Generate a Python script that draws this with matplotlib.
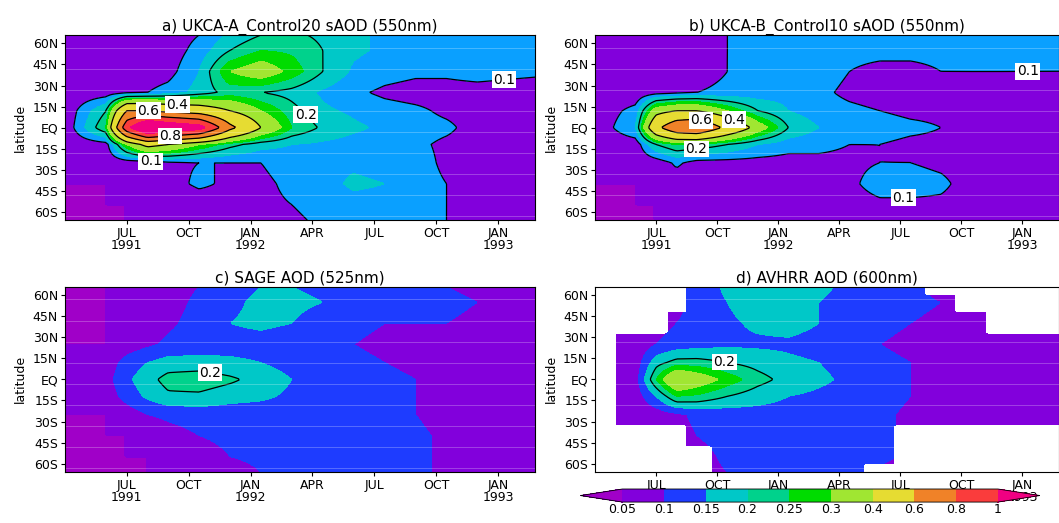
import numpy as np
import matplotlib
matplotlib.use('Agg')
from matplotlib import pyplot as plt
from matplotlib.colors import ListedColormap, BoundaryNorm

nan = np.nan
# month index (Jan 1991 = 0) and latitude grid
months = [3, 5, 6, 7, 8, 9.5, 11, 12.5, 14, 15.5, 17, 18.5, 20, 21.5, 23, 26]
lats = [-66, -55, -40, -25, -12, 0, 12, 25, 40, 55, 66]

aod_a = [
    [.05,.05,.05,.05,.06,.06,.07,.08,.09,.11,.12,.12,.12,.10,.07,.05],
    [.05,.05,.05,.06,.06,.07,.08,.09,.10,.12,.13,.13,.12,.10,.08,.06],
    [.05,.05,.06,.06,.08,.11,.09,.09,.11,.13,.16,.15,.12,.10,.08,.06],
    [.06,.06,.07,.07,.09,.10,.10,.10,.12,.14,.14,.13,.12,.09,.07,.06],
    [.06,.08,.30,.45,.40,.30,.22,.17,.15,.14,.13,.12,.11,.09,.08,.07],
    [.06,.25,.95,1.3,1.2,1.1,.65,.40,.25,.19,.16,.14,.12,.11,.08,.07],
    [.06,.20,.60,.60,.55,.50,.40,.30,.22,.16,.14,.12,.11,.09,.08,.07],
    [.06,.07,.09,.10,.12,.17,.22,.20,.18,.14,.11,.09,.08,.08,.08,.07],
    [.06,.06,.07,.07,.08,.15,.30,.35,.28,.20,.14,.12,.11,.11,.12,.11],
    [.06,.06,.07,.07,.07,.12,.20,.25,.24,.20,.16,.14,.13,.13,.12,.11],
    [.06,.06,.07,.07,.07,.10,.16,.20,.21,.19,.16,.14,.13,.12,.11,.10]]

aod_b = [
    [.05,.05,.05,.05,.06,.06,.06,.07,.07,.08,.08,.08,.08,.07,.06,.05],
    [.05,.05,.05,.06,.06,.06,.07,.07,.08,.08,.09,.09,.09,.08,.06,.06],
    [.05,.05,.06,.07,.06,.06,.07,.07,.08,.09,.12,.12,.11,.08,.06,.06],
    [.06,.06,.07,.11,.08,.08,.08,.08,.09,.09,.10,.10,.09,.08,.06,.06],
    [.06,.07,.20,.25,.24,.20,.15,.12,.11,.10,.10,.09,.09,.08,.07,.06],
    [.06,.15,.55,.75,.80,.55,.35,.20,.15,.13,.12,.11,.10,.09,.07,.06],
    [.06,.12,.35,.40,.40,.30,.20,.15,.12,.11,.10,.09,.09,.08,.07,.06],
    [.06,.06,.08,.09,.10,.11,.12,.13,.11,.09,.08,.08,.08,.08,.08,.07],
    [.06,.06,.06,.07,.08,.10,.13,.15,.12,.10,.09,.09,.10,.10,.10,.10],
    [.06,.06,.06,.07,.08,.10,.12,.12,.12,.11,.11,.11,.11,.12,.12,.11],
    [.06,.06,.06,.07,.08,.10,.12,.12,.12,.12,.12,.12,.12,.12,.12,.11]]

aod_sage = [
    [.05,.05,.05,.05,.06,.06,.08,.10,.11,.12,.12,.12,.11,.09,.07,.05],
    [.05,.05,.05,.05,.06,.08,.10,.11,.12,.12,.13,.12,.11,.09,.07,.05],
    [.05,.05,.05,.06,.08,.10,.11,.12,.12,.13,.14,.12,.11,.09,.07,.06],
    [.05,.05,.07,.10,.11,.12,.12,.12,.12,.12,.12,.11,.10,.08,.07,.06],
    [.05,.07,.12,.16,.19,.19,.17,.16,.14,.13,.12,.11,.10,.08,.07,.06],
    [.05,.08,.14,.18,.22,.23,.21,.18,.15,.13,.12,.11,.10,.08,.07,.06],
    [.05,.07,.12,.15,.17,.17,.16,.15,.13,.12,.11,.10,.09,.08,.07,.06],
    [.05,.05,.07,.09,.11,.12,.13,.13,.12,.11,.10,.09,.08,.07,.06,.06],
    [.05,.05,.06,.07,.09,.12,.15,.16,.15,.13,.11,.10,.10,.10,.09,.07],
    [.05,.05,.06,.06,.08,.11,.14,.16,.16,.15,.13,.11,.11,.11,.10,.08],
    [.05,.05,.06,.06,.08,.10,.13,.15,.15,.14,.12,.11,.10,.10,.09,.07]]

aod_avhrr = [
    [nan,nan,nan,nan,nan,.10,.12,.13,.13,.12,nan,nan,nan,nan,nan,nan],
    [nan,nan,nan,nan,nan,.11,.13,.14,.14,.13,.12,nan,nan,nan,nan,nan],
    [nan,nan,nan,nan,.10,.12,.13,.13,.13,.13,.12,nan,nan,nan,nan,nan],
    [nan,.06,.07,.09,.11,.12,.13,.13,.13,.12,.11,.09,.08,.07,.06,.06],
    [nan,.07,.15,.25,.24,.20,.17,.15,.14,.13,.12,.10,.08,.07,.06,.06],
    [nan,.08,.25,.40,.35,.28,.22,.18,.16,.14,.12,.10,.09,.07,.07,.06],
    [nan,.07,.18,.22,.22,.20,.18,.16,.15,.13,.11,.10,.08,.07,.06,.06],
    [nan,.06,.10,.12,.13,.14,.14,.14,.13,.12,.10,.09,.08,.07,.06,.06],
    [nan,nan,nan,.10,.12,.14,.16,.17,.15,.13,.11,.10,.09,.08,nan,nan],
    [nan,nan,nan,nan,.12,.15,.18,.17,.15,.13,.12,.11,.10,nan,nan,nan],
    [nan,nan,nan,nan,.12,.16,.20,.19,.16,.14,.12,.12,nan,nan,nan,nan]]

levels = [0.05, 0.1, 0.15, 0.2, 0.25, 0.3, 0.4, 0.6, 0.8, 1]
colors = ['#a000c8', '#8200dc', '#1e3cff', '#00c8c8', '#00d28c', '#00dc00',
          '#a0e632', '#e6dc32', '#f08228', '#fa3c3c', '#f00082']
colors_model = list(colors)
colors_model[2] = '#0aa0ff'

panels = [
    ('a) UKCA-A_Control20 sAOD (550nm)', aod_a, [0.1, 0.2, 0.4, 0.6, 0.8], colors_model),
    ('b) UKCA-B_Control10 sAOD (550nm)', aod_b, [0.1, 0.2, 0.4, 0.6, 0.8], colors_model),
    ('c) SAGE AOD (525nm)', aod_sage, [0.2], colors),
    ('d) AVHRR AOD (600nm)', aod_avhrr, [0.2, 0.4], colors),
]
positions = [[0.0614, 0.579, 0.444, 0.354], [0.562, 0.579, 0.438, 0.354],
             [0.0614, 0.0975, 0.444, 0.354], [0.562, 0.0975, 0.438, 0.354]]

xticks = [6, 9, 12, 15, 18, 21, 24]
xlabels = ['JUL\n1991', 'OCT', 'JAN\n1992', 'APR', 'JUL', 'OCT', 'JAN\n1993']
yticks = [-60, -45, -30, -15, 0, 15, 30, 45, 60]
ylabels = ['60S', '45S', '30S', '15S', 'EQ', '15N', '30N', '45N', '60N']

# finer grid for smoother shading (bilinear between the read values)
tf = np.linspace(months[0], months[-1], 200)
lf = np.linspace(lats[0], lats[-1], 150)


def refine(z):
    z = np.array(z, dtype=float)
    miss = np.isnan(z)
    zf = np.where(miss, 0.08, z)
    rows = np.array([np.interp(tf, months, r) for r in zf])
    full = np.array([np.interp(lf, lats, c) for c in rows.T]).T
    # nearest-cell mask for missing data
    it = np.abs(np.subtract.outer(tf, months)).argmin(axis=1)
    il = np.abs(np.subtract.outer(lf, lats)).argmin(axis=1)
    m = miss[il][:, it]
    return np.ma.masked_array(full, mask=m)


fig = plt.figure(figsize=(10.59, 5.23), dpi=100)
X, Y = np.meshgrid(tf, lf)
cf = None
for (title, z, clev, cols), pos in zip(panels, positions):
    ax = fig.add_axes(pos)
    z = refine(z)
    cmap = ListedColormap(cols[1:-1])
    cmap.set_under(cols[0])
    cmap.set_over(cols[-1])
    norm = BoundaryNorm(levels, cmap.N)
    f = ax.contourf(X, Y, z, levels=levels, cmap=cmap, norm=norm, extend='both')
    if cols is colors:
        cf = f
    cs = ax.contour(X, Y, z, levels=clev, colors='black', linewidths=0.9)
    labs = ax.clabel(cs, fmt='%g', fontsize=10, inline=False)
    for t in labs:
        t.set_rotation(0)
        t.set_bbox(dict(facecolor='white', edgecolor='none', pad=1))
    for yy in np.arange(-63, 66, 15):
        ax.axhline(yy, color='white', lw=0.5, alpha=0.35)
    ax.set_xlim(3, 25.8)
    ax.set_ylim(-66, 66)
    ax.set_xticks(xticks)
    ax.set_xticklabels(xlabels, fontsize=9, linespacing=0.9)
    ax.set_yticks(yticks)
    ax.set_yticklabels(ylabels, fontsize=9)
    ax.tick_params(length=3, pad=2)
    ax.set_ylabel('latitude', fontsize=9)
    ax.set_title(title, fontsize=11, pad=3)

cax = fig.add_axes([0.548, 0.04, 0.434, 0.025])
cb = fig.colorbar(cf, cax=cax, orientation='horizontal', extendfrac=0.112, ticks=levels)
cb.ax.set_xticklabels(['%g' % l for l in levels], fontsize=9)
cb.ax.tick_params(length=0, pad=1)
cb.outline.set_linewidth(0.6)

plt.savefig('out.png', dpi=100)
